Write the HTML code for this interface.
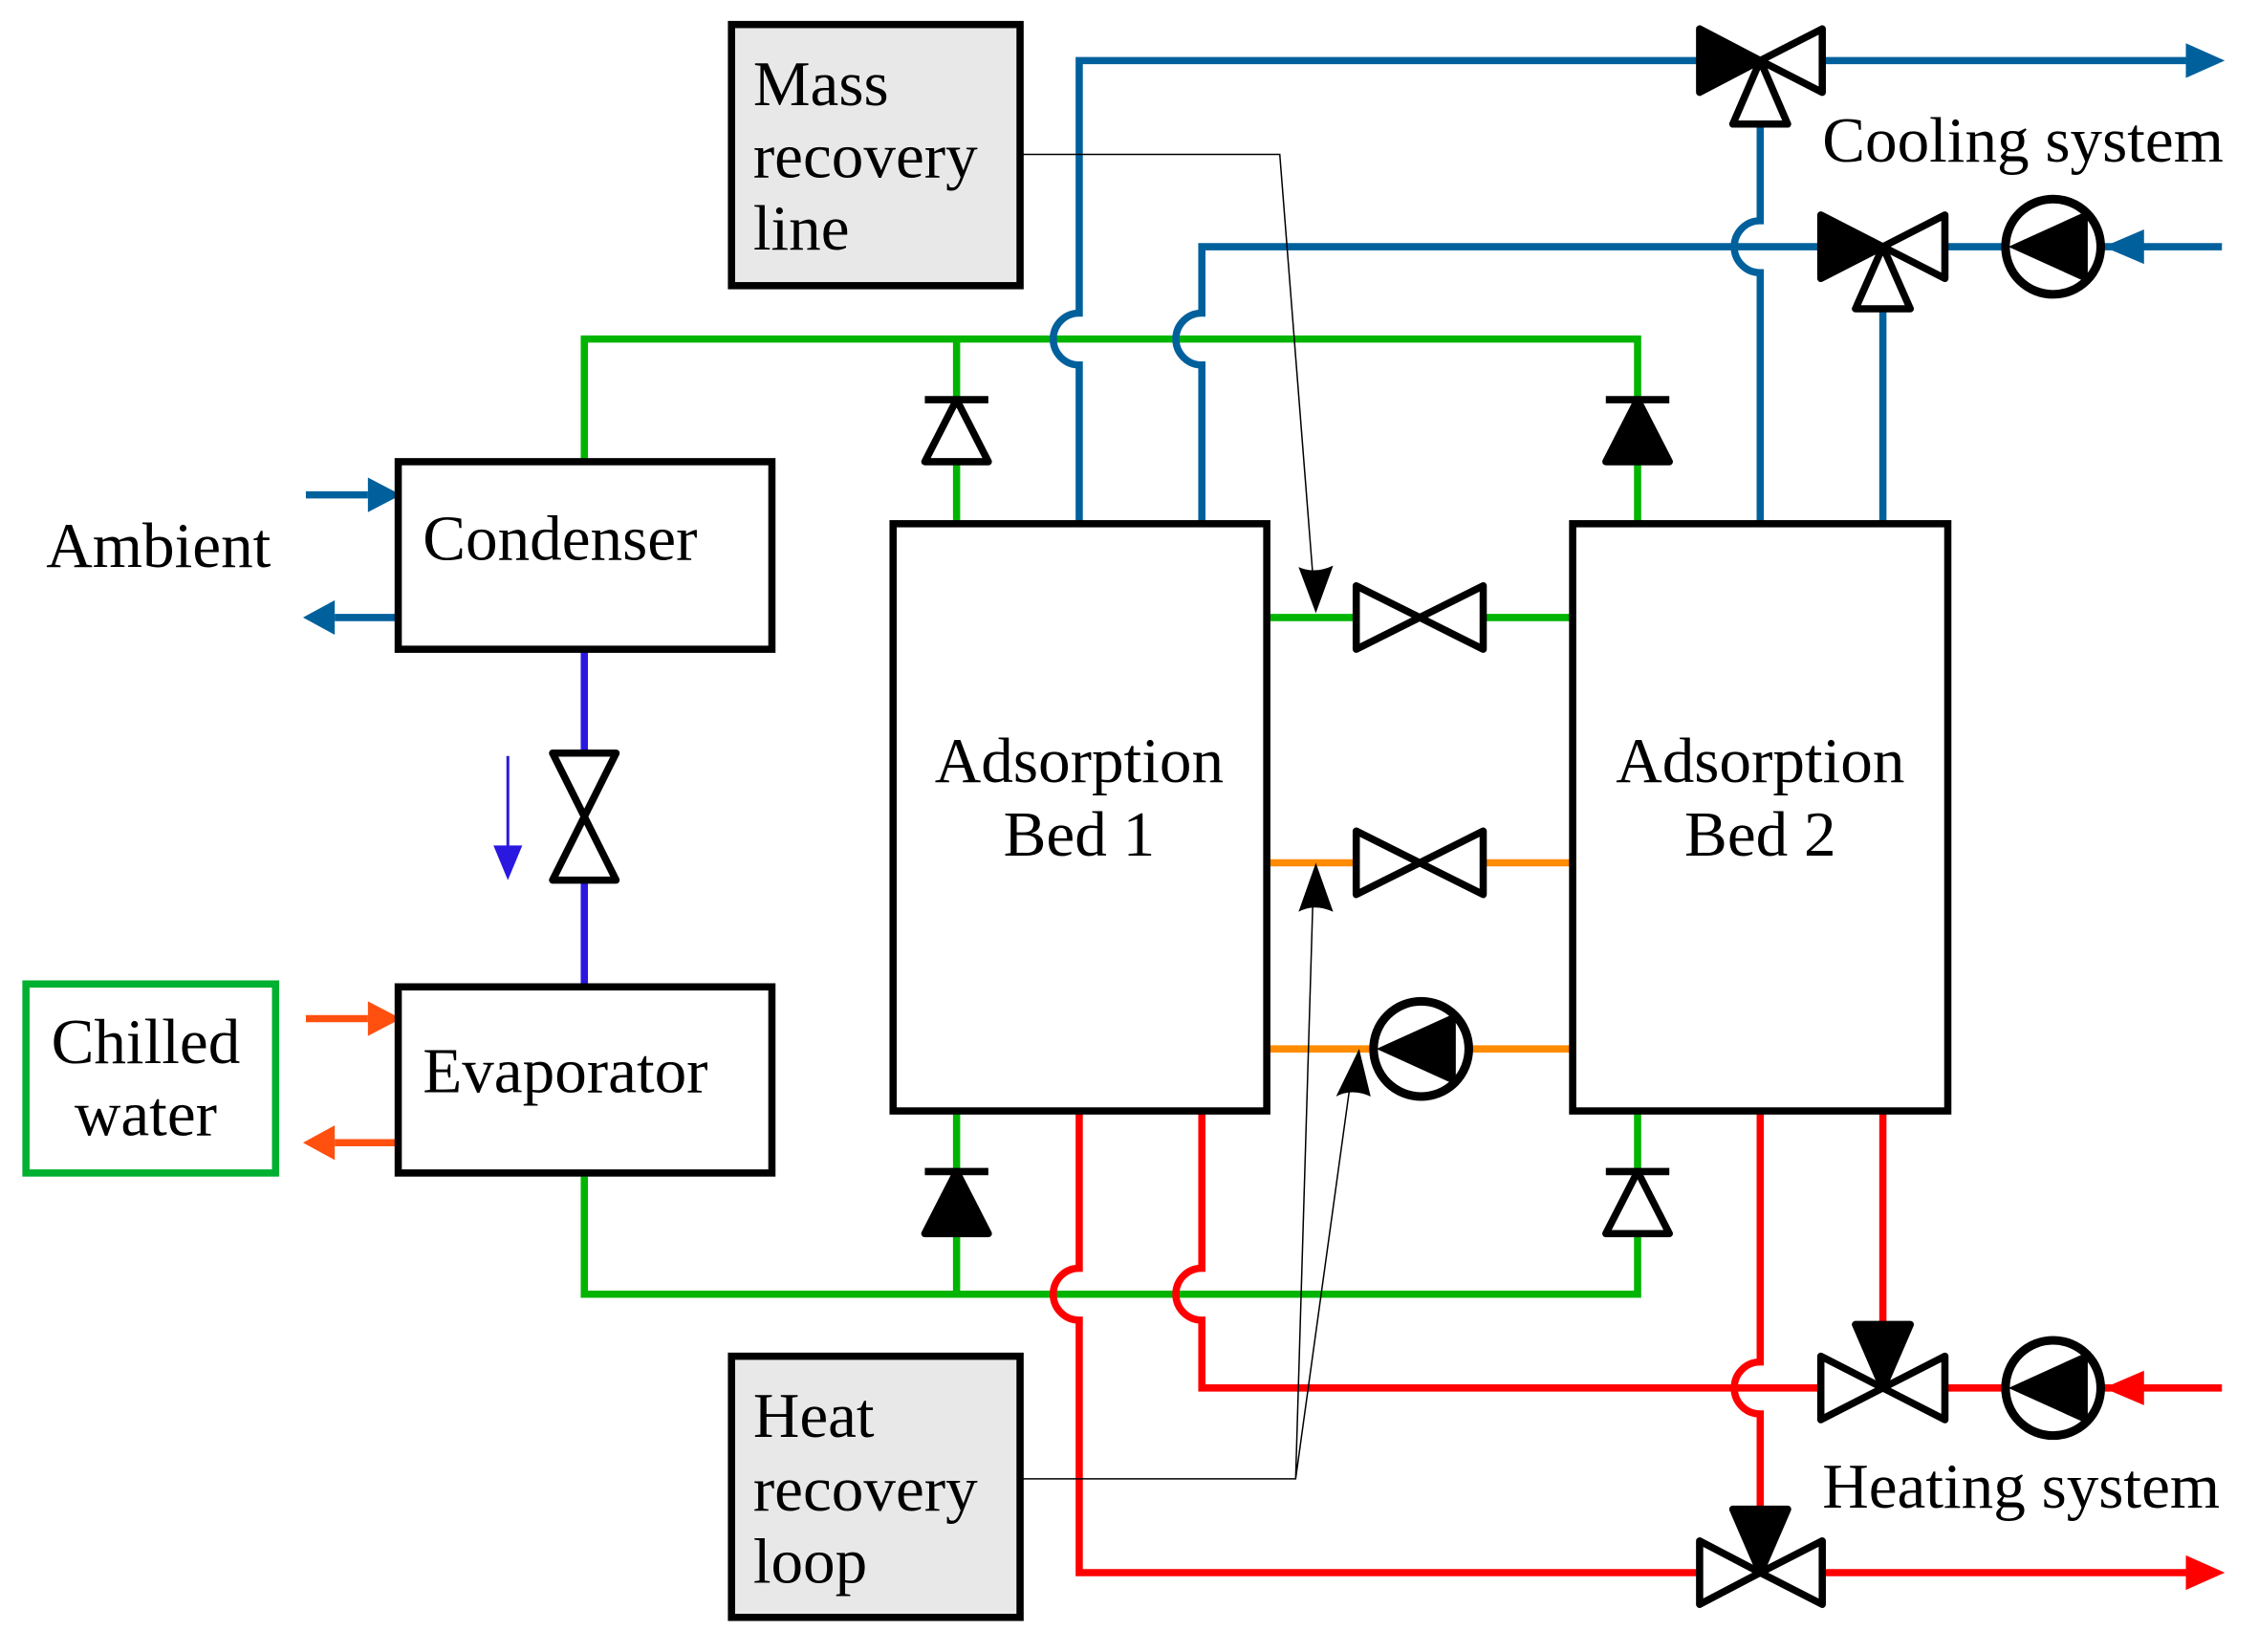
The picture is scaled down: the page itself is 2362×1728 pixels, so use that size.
<!DOCTYPE html>
<html><head><meta charset="utf-8"><style>html,body{margin:0;padding:0;background:#fff}svg{display:block}</style></head>
<body>
<svg width="2362" height="1728" viewBox="0 0 1565 1145" preserveAspectRatio="none" xmlns="http://www.w3.org/2000/svg" font-family="Liberation Serif, serif" font-size="44.5">
<defs>
<g id="v"><path d="M-44,-22 L-44,22 L0,0 Z M44,-22 L44,22 L0,0 Z" fill="#fff" stroke="#000" stroke-width="5" stroke-linejoin="round"/></g>
<g id="pump"><circle r="33" fill="#fff" stroke="#000" stroke-width="6"/><path d="M-31,0 L24,-25 L24,25 Z" fill="#000"/></g>
</defs>
<g fill="none" stroke-width="5">
<g stroke="#00b400">
<path d="M405,320 V235 H1135 V363"/>
<path d="M663,235 V363"/>
<path d="M405,813 V897 H1135 V770"/>
<path d="M663,897 V770"/>
<path d="M878,428 H940 M1028,428 H1090"/>
</g>
<g stroke="#ff8c00">
<path d="M878,598 H940 M1028,598 H1090"/>
<path d="M878,727 H952 M1018,727 H1090"/>
</g>
<g stroke="#00609c">
<path d="M748,363 V253 A18,18 0 0 1 748,217 V42 H1178"/>
<path d="M1263,42 H1515"/>
<path d="M833,363 V253 A18,18 0 0 1 833,217 V171 H1262"/>
<path d="M1348,171 H1390 M1458,171 H1540"/>
<path d="M1220,88 V153 A18,18 0 0 0 1220,189 V363"/>
<path d="M1305,215 V363"/>
<path d="M212,343 H255 M276,428 H232"/>
</g>
<g stroke="#ff0000">
<path d="M748,770 V879 A18,18 0 0 0 748,915 V1090 H1178"/>
<path d="M1263,1090 H1515"/>
<path d="M833,770 V879 A18,18 0 0 0 833,915 V962 H1262"/>
<path d="M1348,962 H1390 M1458,962 H1540"/>
<path d="M1220,770 V944 A18,18 0 0 0 1220,980 V1046"/>
<path d="M1305,770 V918"/>
</g>
<g stroke="#ff5010"><path d="M212,706 H255 M276,792 H232"/></g>
<g stroke="#2a18e0"><path d="M405,450 V522 M405,610 V684"/></g>
<path d="M352,524 V590" stroke="#2a18e0" stroke-width="2"/>
</g>
<path d="M1515,30 L1542,42 L1515,54 Z" fill="#00609c"/>
<path d="M1486,159 L1458,171 L1486,183 Z" fill="#00609c"/>
<path d="M255,331 L278,343 L255,355 Z M232,416 L210,428 L232,440 Z" fill="#00609c"/>
<path d="M1515,1078 L1542,1090 L1515,1102 Z" fill="#ff0000"/>
<path d="M1486,950 L1458,962 L1486,974 Z" fill="#ff0000"/>
<path d="M255,694 L278,706 L255,718 Z M232,780 L210,792 L232,804 Z" fill="#ff5010"/>
<path d="M342,586 L352,610 L362,586 Z" fill="#2a18e0"/>
<rect x="507" y="17" width="200" height="181" fill="#e8e8e8" stroke="#000" stroke-width="5"/>
<rect x="507" y="940" width="200" height="181" fill="#e8e8e8" stroke="#000" stroke-width="5"/>
<rect x="276" y="320" width="259" height="130" fill="#fff" stroke="#000" stroke-width="5"/>
<rect x="276" y="684" width="259" height="129" fill="#fff" stroke="#000" stroke-width="5"/>
<rect x="619" y="363" width="259" height="407" fill="#fff" stroke="#000" stroke-width="5"/>
<rect x="1090" y="363" width="260" height="407" fill="#fff" stroke="#000" stroke-width="5"/>
<rect x="18" y="682" width="173" height="131" fill="#fff" stroke="#00b030" stroke-width="5"/>
<use href="#v" x="984" y="428"/>
<use href="#v" x="984" y="598"/>
<use href="#pump" x="985" y="727"/>
<path d="M383,522 H427 L405,566 Z M383,610 H427 L405,566 Z" fill="#fff" stroke="#000" stroke-width="5" stroke-linejoin="round"/>
<path d="M1178,20 V64 L1220,42 Z" fill="#000" stroke="#000" stroke-width="5" stroke-linejoin="round"/>
<path d="M1263,20 V64 L1220,42 Z M1220,42 L1201,86 H1239 Z" fill="#fff" stroke="#000" stroke-width="5" stroke-linejoin="round"/>
<path d="M1262,149 V193 L1305,171 Z" fill="#000" stroke="#000" stroke-width="5" stroke-linejoin="round"/>
<path d="M1348,149 V193 L1305,171 Z M1305,171 L1286,214 H1324 Z" fill="#fff" stroke="#000" stroke-width="5" stroke-linejoin="round"/>
<use href="#pump" x="1423" y="171"/>
<path d="M1262,940 V984 L1305,962 Z M1348,940 V984 L1305,962 Z" fill="#fff" stroke="#000" stroke-width="5" stroke-linejoin="round"/>
<path d="M1305,962 L1286,918 H1324 Z" fill="#000" stroke="#000" stroke-width="5" stroke-linejoin="round"/>
<use href="#pump" x="1423" y="962"/>
<path d="M1178,1068 V1112 L1220,1090 Z M1263,1068 V1112 L1220,1090 Z" fill="#fff" stroke="#000" stroke-width="5" stroke-linejoin="round"/>
<path d="M1220,1090 L1201,1046 H1239 Z" fill="#000" stroke="#000" stroke-width="5" stroke-linejoin="round"/>
<g stroke="#000" stroke-width="5" stroke-linejoin="round">
<path d="M641,277 H685" /><path d="M663,277 L641,320 H685 Z" fill="#fff"/>
<path d="M1113,277 H1157" /><path d="M1135,277 L1113,320 H1157 Z" fill="#000"/>
<path d="M641,812 H685" /><path d="M663,812 L641,855 H685 Z" fill="#000"/>
<path d="M1113,812 H1157" /><path d="M1135,812 L1113,855 H1157 Z" fill="#fff"/>
</g>
<g fill="none" stroke="#000" stroke-width="1">
<path d="M707,107 H887 L910,400"/>
<path d="M707,1025 H898 L910,622 M898,1025 L936,750"/>
</g>
<path d="M912,425 L900,393 Q911,398 924,392 Z" fill="#000"/>
<path d="M912,598 L900,632 Q911,626 924,632 Z" fill="#000"/>
<path d="M942,727 L926,760 Q937,754 950,760 Z" fill="#000"/>
<g fill="#000">
<text x="522" y="73">Mass</text><text x="522" y="123">recovery</text><text x="522" y="173">line</text>
<text x="522" y="996">Heat</text><text x="522" y="1047">recovery</text><text x="522" y="1097">loop</text>
<text x="293" y="388">Condenser</text>
<text x="293" y="757">Evaporator</text>
<text x="748" y="542" text-anchor="middle">Adsorption</text><text x="748" y="593" text-anchor="middle">Bed 1</text>
<text x="1220" y="542" text-anchor="middle">Adsorption</text><text x="1220" y="593" text-anchor="middle">Bed 2</text>
<text x="101" y="737" text-anchor="middle">Chilled</text><text x="101" y="787" text-anchor="middle">water</text>
<text x="32" y="393">Ambient</text>
<text x="1263" y="112">Cooling system</text>
<text x="1263" y="1045">Heating system</text>
</g>
</svg>
</body></html>
